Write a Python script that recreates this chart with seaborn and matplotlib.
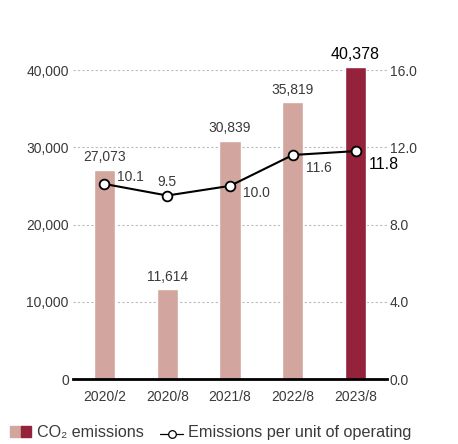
import matplotlib
matplotlib.use("Agg")
import matplotlib.pyplot as plt
from matplotlib.patches import Rectangle
from matplotlib.lines import Line2D
import seaborn as sns
import pandas as pd

periods = ["2020/2", "2020/8", "2021/8", "2022/8", "2023/8"]
co2_emissions = [27073, 11614, 30839, 35819, 40378]
per_unit = [10.1, 9.5, 10.0, 11.6, 11.8]
left_ticks = [0, 10000, 20000, 30000, 40000]
right_ticks = [0.0, 4.0, 8.0, 12.0, 16.0]

light = "#D2A59F"
dark = "#93223A"
text_c = "#3A3A3A"

sns.set_theme(style="white")
plt.rcParams["font.family"] = ["Liberation Sans", "DejaVu Sans"]

FS = 10
FS_HI = 11.5

fig = plt.figure(figsize=(4.58, 4.44), dpi=100)
ax = fig.add_axes([73 / 458, 1 - 379 / 444, 314 / 458, 309 / 444])

df = pd.DataFrame({"period": periods, "co2": co2_emissions})
colors = [light] * (len(periods) - 1) + [dark]
sns.barplot(data=df, x="period", y="co2", hue="period", palette=colors,
            width=0.34, legend=False, ax=ax, saturation=1, zorder=2)
for p in ax.patches:
    p.set_clip_on(False)

ax.set_xlim(-0.5, len(periods) - 0.5)
ax.set_ylim(0, 40000)
ax.set_yticks(left_ticks)
ax.set_yticklabels([f"{v:,}" for v in left_ticks])
ax.set_xlabel("")
ax.set_ylabel("")
ax.yaxis.grid(True, linestyle=(0, (2, 2)), color="#BBBBBB", linewidth=0.8, zorder=0)
ax.set_axisbelow(True)
for s in ["top", "left", "right"]:
    ax.spines[s].set_visible(False)
ax.spines["bottom"].set_color("black")
ax.spines["bottom"].set_linewidth(2)
ax.spines["bottom"].set_zorder(3)
ax.tick_params(axis="both", length=0, labelsize=FS, labelcolor=text_c)
ax.tick_params(axis="y", pad=3)
ax.tick_params(axis="x", pad=8)

# Value labels above bars
for i, v in enumerate(co2_emissions):
    last = i == len(co2_emissions) - 1
    ax.annotate(f"{v:,}", (i, v), xytext=(0, 4), textcoords="offset points",
                ha="center", va="bottom", annotation_clip=False,
                fontsize=FS_HI if last else FS,
                color="black" if last else text_c)

# Intensity line on secondary axis
ax2 = ax.twinx()
ax2.set_ylim(0, 16)
ax2.set_yticks(right_ticks)
ax2.set_yticklabels([f"{v:.1f}" for v in right_ticks])
for s in ["top", "left", "right", "bottom"]:
    ax2.spines[s].set_visible(False)
ax2.tick_params(axis="y", length=0, labelsize=FS, labelcolor=text_c, pad=2)
x_pos = list(range(len(periods)))
ax2.plot(x_pos, per_unit, color="black", linewidth=1.5, marker="o",
         markersize=7, markerfacecolor="white", markeredgecolor="black",
         markeredgewidth=1.3, zorder=5, clip_on=False)

offsets = [(19, 5), (0, 10), (19, -5), (19, -9.5), (9.5, -9.5)]
aligns = ["center", "center", "center", "center", "left"]
for i, v in enumerate(per_unit):
    last = i == len(per_unit) - 1
    ax2.annotate(f"{v:.1f}", (i, v), xytext=offsets[i], textcoords="offset points",
                 ha=aligns[i], va="center", annotation_clip=False,
                 fontsize=FS_HI if last else FS,
                 color="black" if last else text_c)

# Legend row at the bottom
fig.patches.append(Rectangle((10 / 458, 1 - 437 / 444), 11 / 458, 11 / 444,
                             transform=fig.transFigure, color=light))
fig.patches.append(Rectangle((21 / 458, 1 - 437 / 444), 10 / 458, 11 / 444,
                             transform=fig.transFigure, color=dark))
fig.text(37 / 458, 1 - 432 / 444, "CO\u2082 emissions", fontsize=11.6,
         color=text_c, va="center", ha="left")
fig.add_artist(Line2D([160 / 458, 183 / 458], [1 - 434 / 444, 1 - 434 / 444],
                      transform=fig.transFigure, color="black", linewidth=0.9))
fig.add_artist(Line2D([171.5 / 458], [1 - 434 / 444], transform=fig.transFigure,
                      marker="o", markersize=5.5, markerfacecolor="white",
                      markeredgecolor="black", markeredgewidth=0.9))
fig.text(188 / 458, 1 - 432 / 444, "Emissions per unit of operating", fontsize=11.7,
         color=text_c, va="center", ha="left")

fig.savefig("out.png", dpi=100)
